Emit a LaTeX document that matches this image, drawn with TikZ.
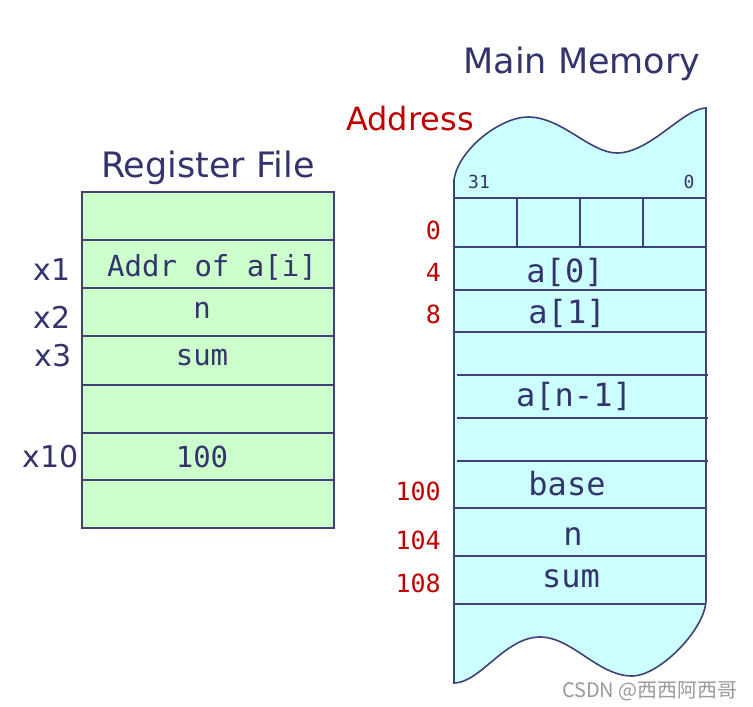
\documentclass[tikz,border=0pt]{standalone}
\usepackage{fontspec}
\setmainfont{DejaVu Sans}
\newfontfamily\monof{DejaVu Sans Mono}
\newfontfamily\cjkf{Noto Sans CJK SC}
\definecolor{navy}{RGB}{52,52,108}
\definecolor{edge}{RGB}{64,64,120}
\definecolor{regfill}{RGB}{204,255,204}
\definecolor{memfill}{RGB}{204,255,255}
\definecolor{addrred}{RGB}{192,0,0}
\begin{document}
\begin{tikzpicture}[x=1pt,y=-1pt,
  title/.style={font=\fontsize{35}{40}\selectfont, text=navy, anchor=base, inner sep=0},
  regtxt/.style={font=\monof\fontsize{29}{34}\selectfont, text=navy, anchor=base, inner sep=0},
  memtxt/.style={font=\monof\fontsize{32}{36}\selectfont, text=navy, anchor=base, inner sep=0},
  reglab/.style={font=\fontsize{30}{34}\selectfont, text=navy, anchor=base east, inner sep=0},
  addrlab/.style={font=\monof\fontsize{25}{30}\selectfont, text=addrred, anchor=base east, inner sep=0},
  bitlab/.style={font=\monof\fontsize{18}{20}\selectfont, text=navy, anchor=base, inner sep=0},
  wall/.style={draw=edge, line width=1.6pt},
  thin/.style={draw=edge, line width=1.4pt}]
\useasboundingbox (0,0) rectangle (753,707);

% titles
\node[title] (mm) at (582,73) {Main Memory};
\node[title] (rf) at (208,177) {Register File};
\node[font=\fontsize{32}{36}\selectfont, text=addrred, anchor=base, inner sep=0] (addr) at (410,130) {Address};

% register file
\path[fill=regfill, wall] (82,192) rectangle (334,528);
\foreach \y in {240,288,336,385,433,480} \draw[thin] (82,\y) -- (334,\y);
\node[regtxt] (r1) at (212,276) {Addr of a[i]};
\node[regtxt] (r2) at (202,318) {n};
\node[regtxt] (r3) at (202,365) {sum};
\node[regtxt] (r10) at (202,467) {100};
\node[reglab] (x1) at (71,280) {x1};
\node[reglab] (x2) at (71,328) {x2};
\node[reglab] (x3) at (72,366) {x3};
\node[reglab] (x10) at (79,467) {x10};

% main memory
\path[fill=memfill, wall] (454,180) .. controls (458,150) and (500,117) .. (528,117)
  .. controls (562,117) and (590,153) .. (617,153)
  .. controls (650,153) and (684,108) .. (706,108)
  -- (706,600) .. controls (706,628) and (660,676) .. (632,676)
  .. controls (598,676) and (572,637) .. (540,637)
  .. controls (505,637) and (480,683) .. (454,683) -- cycle;
\foreach \y in {198,247,290,332,508,556,604} \draw[thin] (454,\y) -- (706,\y);
\foreach \y in {375,418,461} \draw[thin] (457,\y) -- (708,\y);
\foreach \x in {517,580,643} \draw[thin] (\x,198) -- (\x,247);
\node[bitlab] (b31) at (479,188) {31};
\node[bitlab] (b0) at (689,188) {0};
\node[memtxt] (m0) at (565,282) {a[0]};
\node[memtxt] (m1) at (567,323) {a[1]};
\node[memtxt] (mn) at (574,406) {a[n-1]};
\node[memtxt] (mb) at (567,495) {base};
\node[memtxt] (mnn) at (573,545) {n};
\node[memtxt] (ms) at (571,587) {sum};
\node[addrlab] (a0) at (441,239) {0};
\node[addrlab] (a4) at (441,281) {4};
\node[addrlab] (a8) at (441,323) {8};
\node[addrlab] (a100) at (441,500) {100};
\node[addrlab] (a104) at (441,549) {104};
\node[addrlab] (a108) at (441,592) {108};

% watermark
\node[font=\cjkf\fontsize{20}{22}\selectfont, text=black!40, anchor=base east, inner sep=0] (wm) at (738,697) {CSDN @西西阿西哥};
\end{tikzpicture}
\end{document}
